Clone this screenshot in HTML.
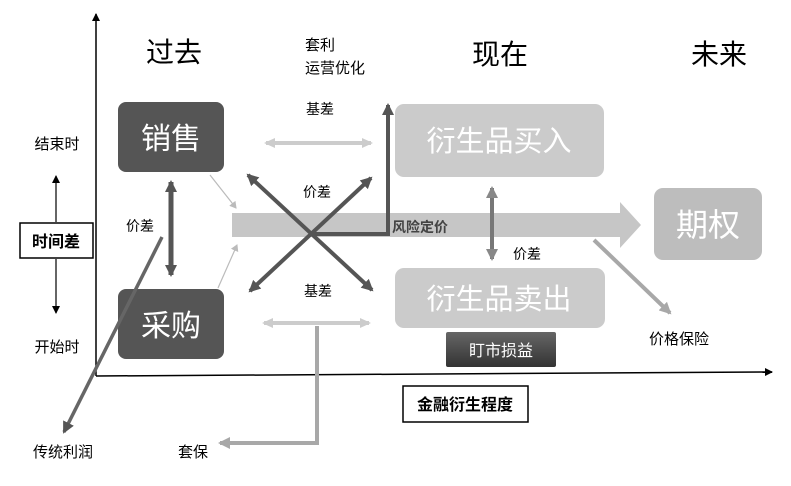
<!DOCTYPE html>
<html><head><meta charset="utf-8"><style>
html,body{margin:0;padding:0;background:#fff;}
svg{display:block;}
text{font-family:"Liberation Sans","Noto Sans CJK SC",sans-serif;}
</style></head><body>
<svg width="791" height="486" viewBox="0 0 791 486" xmlns="http://www.w3.org/2000/svg">
<defs>
<marker id="ak" markerWidth="8" markerHeight="8" refX="7" refY="4" orient="auto" markerUnits="userSpaceOnUse"><path d="M0,0 L8,4 L0,8 z" fill="#000"/></marker>
<marker id="ad" markerWidth="14" markerHeight="14" refX="10" refY="7" orient="auto-start-reverse" markerUnits="userSpaceOnUse"><path d="M0,1 L12,7 L0,13 z" fill="#555"/></marker>
<marker id="al" markerWidth="12" markerHeight="12" refX="9" refY="6" orient="auto-start-reverse" markerUnits="userSpaceOnUse"><path d="M0,1 L11,6 L0,11 z" fill="#ccc"/></marker>
<marker id="am" markerWidth="14" markerHeight="14" refX="10" refY="7" orient="auto-start-reverse" markerUnits="userSpaceOnUse"><path d="M0,1 L12,7 L0,13 z" fill="#888"/></marker>
<marker id="ag" markerWidth="14" markerHeight="14" refX="10" refY="7" orient="auto" markerUnits="userSpaceOnUse"><path d="M0,1 L12,7 L0,13 z" fill="#a8a8a8"/></marker>
<marker id="at" markerWidth="8" markerHeight="8" refX="6" refY="4" orient="auto" markerUnits="userSpaceOnUse"><path d="M0,0 L7,4 L0,8 z" fill="#bbb"/></marker>
<linearGradient id="gd" x1="0" y1="0" x2="0" y2="1"><stop offset="0" stop-color="#666"/><stop offset="1" stop-color="#333"/></linearGradient>
</defs>
<!-- axes -->
<line x1="96" y1="376" x2="96" y2="14" stroke="#000" stroke-width="1.5" marker-end="url(#ak)"/>
<line x1="96" y1="376" x2="772" y2="372" stroke="#000" stroke-width="1.5" marker-end="url(#ak)"/>
<!-- headings -->
<text x="174" y="62" font-size="28" text-anchor="middle">过去</text>
<text x="500" y="64" font-size="28" text-anchor="middle">现在</text>
<text x="719" y="64" font-size="28" text-anchor="middle">未来</text>
<text x="305" y="50" font-size="15">套利</text>
<text x="305" y="73" font-size="15">运营优化</text>
<!-- left labels -->
<text x="57" y="149" font-size="15" text-anchor="middle">结束时</text>
<text x="57" y="352" font-size="15" text-anchor="middle">开始时</text>
<line x1="56" y1="222" x2="56" y2="176" stroke="#000" stroke-width="1.2" marker-end="url(#ak)"/>
<line x1="56" y1="259" x2="56" y2="313" stroke="#000" stroke-width="1.2" marker-end="url(#ak)"/>
<rect x="20" y="223" width="73" height="35" fill="#fff" stroke="#000" stroke-width="1.5"/>
<text x="56" y="247" font-size="16" font-weight="bold" text-anchor="middle">时间差</text>
<!-- band arrow -->
<path d="M232,213 L620,213 L620,202 L641,225 L620,248 L620,237 L232,237 z" fill="#c6c6c6"/>
<!-- thin light arrows -->
<line x1="210" y1="175" x2="236" y2="208" stroke="#bbb" stroke-width="1.2" marker-end="url(#at)"/>
<line x1="218" y1="288" x2="237" y2="245" stroke="#bbb" stroke-width="1.2" marker-end="url(#at)"/>
<!-- boxes -->
<rect x="118" y="102" width="106" height="70" rx="8" fill="#555"/>
<text x="171" y="149" font-size="30" fill="#fff" text-anchor="middle">销售</text>
<rect x="118" y="289" width="106" height="70" rx="8" fill="#555"/>
<text x="171" y="336" font-size="30" fill="#fff" text-anchor="middle">采购</text>
<rect x="395" y="104" width="209" height="73" rx="9" fill="#cbcbcb"/>
<text x="499" y="151" font-size="29" fill="#fff" text-anchor="middle">衍生品买入</text>
<rect x="395" y="268" width="210" height="60" rx="9" fill="#cbcbcb"/>
<text x="499" y="309" font-size="29" fill="#fff" text-anchor="middle">衍生品卖出</text>
<rect x="654" y="188" width="108" height="72" rx="9" fill="#bdbdbd"/>
<text x="708" y="236" font-size="32" fill="#fff" text-anchor="middle">期权</text>
<rect x="446" y="332" width="110" height="35" rx="2" fill="url(#gd)"/>
<text x="501" y="356" font-size="16" fill="#fff" text-anchor="middle">盯市损益</text>
<!-- dark L arrow -->
<polyline points="312,234 388,234 388,105" fill="none" stroke="#555" stroke-width="4" marker-end="url(#ad)"/>
<text x="392" y="232" font-size="14" font-weight="bold" fill="#444">风险定价</text>
<!-- X -->
<line x1="248" y1="175" x2="372" y2="290" stroke="#555" stroke-width="4" marker-start="url(#ad)" marker-end="url(#ad)"/>
<line x1="250" y1="291" x2="371" y2="178" stroke="#555" stroke-width="4" marker-start="url(#ad)" marker-end="url(#ad)"/>
<!-- basis arrows -->
<line x1="266" y1="143" x2="371" y2="143" stroke="#ccc" stroke-width="4" marker-start="url(#al)" marker-end="url(#al)"/>
<line x1="264" y1="323" x2="369" y2="323" stroke="#ccc" stroke-width="4" marker-start="url(#al)" marker-end="url(#al)"/>
<text x="320" y="114" font-size="14" text-anchor="middle">基差</text>
<text x="317" y="197" font-size="14" text-anchor="middle">价差</text>
<text x="318" y="296" font-size="14" text-anchor="middle">基差</text>
<!-- vertical price diff -->
<line x1="171" y1="182" x2="171" y2="275" stroke="#555" stroke-width="5" marker-start="url(#ad)" marker-end="url(#ad)"/>
<text x="140" y="231" font-size="14" text-anchor="middle">价差</text>
<line x1="492" y1="188" x2="492" y2="259" stroke="#777" stroke-width="4" marker-start="url(#am)" marker-end="url(#am)"/>
<text x="527" y="259" font-size="14" text-anchor="middle">价差</text>
<!-- traditional profit -->
<line x1="162" y1="237" x2="64" y2="432" stroke="#666" stroke-width="3.5" marker-end="url(#ad)"/>
<text x="63" y="457" font-size="15" text-anchor="middle">传统利润</text>
<!-- hedge -->
<polyline points="317,326 317,443 220,443" fill="none" stroke="#a8a8a8" stroke-width="4" marker-end="url(#ag)"/>
<text x="193" y="457" font-size="15" text-anchor="middle">套保</text>
<!-- price insurance -->
<line x1="594" y1="240" x2="670" y2="313" stroke="#a8a8a8" stroke-width="4" marker-end="url(#ag)"/>
<text x="679" y="344" font-size="15" text-anchor="middle">价格保险</text>
<!-- degree box -->
<rect x="403" y="386" width="125" height="36" fill="#fff" stroke="#000" stroke-width="1.5"/>
<text x="465" y="410" font-size="16" font-weight="bold" text-anchor="middle">金融衍生程度</text>
</svg>
</body></html>
